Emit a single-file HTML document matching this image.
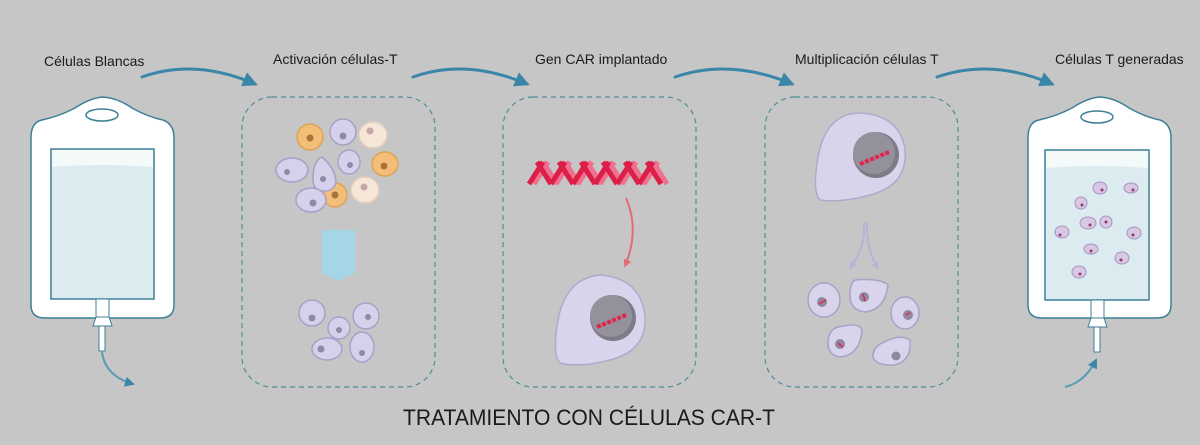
<!DOCTYPE html>
<html><head><meta charset="utf-8"><style>
html,body{margin:0;padding:0;background:#c6c6c6;}
svg{display:block;}
text{font-family:"Liberation Sans",sans-serif;fill:#1a1a1a;}
</style></head><body>
<svg width="1200" height="445" viewBox="0 0 1200 445" xmlns="http://www.w3.org/2000/svg">
<defs>
<marker id="ah" viewBox="0 0 10 10" refX="8" refY="5" markerWidth="5" markerHeight="5" orient="auto"><path d="M0,0 L10,5 L0,10 z" fill="#3a86a8"/></marker>
<marker id="ahp" viewBox="0 0 10 10" refX="8" refY="5" markerWidth="4" markerHeight="4" orient="auto"><path d="M0,0 L10,5 L0,10 z" fill="#e46a78"/></marker>
<marker id="ahl" viewBox="0 0 10 10" refX="8" refY="5" markerWidth="4" markerHeight="4" orient="auto"><path d="M0,0 L10,5 L0,10 z" fill="#b8b2d8"/></marker>
</defs>
<rect width="1200" height="445" fill="#c6c6c6"/>

<text x="44" y="66" font-size="14">Células Blancas</text>
<text x="273" y="64" font-size="14">Activación células-T</text>
<text x="535" y="64" font-size="14">Gen CAR implantado</text>
<text x="795" y="64" font-size="14">Multiplicación células T</text>
<text x="1055" y="64" font-size="14">Células T generadas</text>
<text x="403" y="425" font-size="22" textLength="372" lengthAdjust="spacingAndGlyphs">TRATAMIENTO CON CÉLULAS CAR-T</text>

<g fill="none" stroke="#3a86a8" stroke-width="3" stroke-linecap="round">
<path d="M142,77 Q195,58 255,84" marker-end="url(#ah)"/>
<path d="M413,77 Q466,58 527,84" marker-end="url(#ah)"/>
<path d="M675,77 Q730,58 792,84" marker-end="url(#ah)"/>
<path d="M937,77 Q992,58 1052,84" marker-end="url(#ah)"/>
</g>

<g>
<path d="M42,120 Q60,116 75,108 Q90,98 103,97 Q118,98 132,108 Q148,117 163,120 Q174,124 174,138 L174,305 Q174,318 160,318 L45,318 Q31,318 31,305 L31,138 Q31,122 42,120 Z" fill="#fff" stroke="#3e7f97" stroke-width="1.5"/>
<ellipse cx="102" cy="115" rx="16" ry="6" fill="#fff" stroke="#3e7f97" stroke-width="1.5"/>
<rect x="51" y="149" width="103" height="150" fill="#dcebef" stroke="#3e7f97" stroke-width="1.5"/>
<path d="M52,150 L153,150 L153,167 Q103,163 52,167 Z" fill="#f4f9fa"/>
<rect x="96" y="299" width="13" height="18" fill="#fff" stroke="#3e7f97" stroke-width="1"/>
<path d="M96,317 L109,317 L112,326 L93,326 Z" fill="#fff" stroke="#3e7f97" stroke-width="1"/>
<rect x="99" y="326" width="6" height="25" fill="#fff" stroke="#3e7f97" stroke-width="1"/>
<path d="M102,352 Q105,376 133,384" fill="none" stroke="#5a9bb5" stroke-width="2" marker-end="url(#ah)"/>
</g>

<g>
<path d="M1039,120 Q1057,116 1072,108 Q1087,98 1100,97 Q1115,98 1129,108 Q1145,117 1160,120 Q1171,124 1171,138 L1171,305 Q1171,318 1157,318 L1042,318 Q1028,318 1028,305 L1028,138 Q1028,122 1039,120 Z" fill="#fff" stroke="#3e7f97" stroke-width="1.5"/>
<ellipse cx="1097" cy="117" rx="16" ry="6" fill="#fff" stroke="#3e7f97" stroke-width="1.5"/>
<rect x="1045" y="150" width="104" height="150" fill="#dcebef" stroke="#3e7f97" stroke-width="1.5"/>
<path d="M1046,151 L1148,151 L1148,168 Q1097,164 1046,168 Z" fill="#f4f9fa"/>
<rect x="1091" y="300" width="13" height="18" fill="#fff" stroke="#3e7f97" stroke-width="1"/>
<path d="M1091,318 L1104,318 L1107,327 L1088,327 Z" fill="#fff" stroke="#3e7f97" stroke-width="1"/>
<rect x="1094" y="327" width="6" height="25" fill="#fff" stroke="#3e7f97" stroke-width="1"/>
<path d="M1065,387 Q1085,382 1096,360" fill="none" stroke="#5a9bb5" stroke-width="2" marker-end="url(#ah)"/>
<g fill="#d8c8e4" stroke="#a793c2" stroke-width="1">
<ellipse cx="1100" cy="188" rx="7" ry="6"/><ellipse cx="1131" cy="188" rx="7" ry="5"/>
<ellipse cx="1081" cy="203" rx="6" ry="6"/><ellipse cx="1088" cy="223" rx="8" ry="6"/>
<ellipse cx="1106" cy="222" rx="6" ry="6"/><ellipse cx="1062" cy="232" rx="7" ry="6"/>
<ellipse cx="1134" cy="233" rx="7" ry="6"/><ellipse cx="1091" cy="249" rx="7" ry="5"/>
<ellipse cx="1122" cy="258" rx="7" ry="6"/><ellipse cx="1079" cy="272" rx="7" ry="6"/>
</g>
<g fill="#8a3d6e">
<circle cx="1102" cy="190" r="1.5"/><circle cx="1133" cy="190" r="1.5"/><circle cx="1082" cy="205" r="1.5"/><circle cx="1090" cy="225" r="1.5"/><circle cx="1106" cy="222" r="1.5"/><circle cx="1060" cy="235" r="1.5"/><circle cx="1133" cy="235" r="1.5"/><circle cx="1091" cy="251" r="1.5"/><circle cx="1121" cy="260" r="1.5"/><circle cx="1080" cy="274" r="1.5"/>
</g>
</g>

<g fill="none" stroke="#4f8c9a" stroke-width="1.2" stroke-dasharray="5,4">
<rect x="242" y="97" width="193" height="290" rx="30"/>
<rect x="503" y="97" width="193" height="290" rx="30"/>
<rect x="765" y="97" width="193" height="290" rx="30"/>
</g>

<g stroke-width="1.5">
<g fill="#f3bf78" stroke="#dba45a">
<ellipse cx="310" cy="137" rx="13" ry="13"/><ellipse cx="385" cy="164" rx="13" ry="12"/><ellipse cx="335" cy="195" rx="12" ry="12"/>
</g>
<g fill="#f6e6d8" stroke="#e2cdbe">
<ellipse cx="373" cy="135" rx="14" ry="13"/><ellipse cx="365" cy="190" rx="14" ry="13"/>
</g>
<g fill="#d6d0ea" stroke="#a8a0c8">
<ellipse cx="343" cy="132" rx="13" ry="13"/><ellipse cx="292" cy="170" rx="16" ry="12"/>
<path d="M322,157 Q335,168 336,182 Q334,192 322,191 Q312,190 313,176 Q314,160 322,157Z"/>
<ellipse cx="349" cy="162" rx="11" ry="12"/><ellipse cx="311" cy="200" rx="15" ry="12"/>
<ellipse cx="312" cy="313" rx="13" ry="13"/><ellipse cx="339" cy="328" rx="11" ry="11"/><ellipse cx="366" cy="316" rx="13" ry="13"/>
<ellipse cx="327" cy="349" rx="15" ry="11"/><ellipse cx="362" cy="347" rx="12" ry="15"/>
</g>
<g fill="#8e89a6" stroke="none">
<circle cx="343" cy="136" r="3.5"/><circle cx="287" cy="172" r="3"/><circle cx="323" cy="179" r="3"/><circle cx="350" cy="165" r="3"/><circle cx="313" cy="203" r="3.5"/>
<circle cx="312" cy="318" r="3.5"/><circle cx="339" cy="330" r="3"/><circle cx="368" cy="317" r="3"/><circle cx="321" cy="349" r="3.5"/><circle cx="362" cy="353" r="3"/>
</g>
<g fill="#a6733a" stroke="none"><circle cx="310" cy="138" r="3.5"/><circle cx="384" cy="166" r="3.5"/><circle cx="335" cy="195" r="3.5"/></g>
<g fill="#c9a6a6" stroke="none"><circle cx="370" cy="131" r="3.5"/><circle cx="364" cy="187" r="3.5"/></g>
</g>
<path d="M322,230 L355,230 L355,273 L338,281 L322,273 Z" fill="#a5d6e8"/>

<!-- DNA -->
<g stroke-width="5" stroke-linecap="butt">
<g stroke="#f0708e">
<path d="M534,184 L548,162"/><path d="M556,184 L570,162"/><path d="M578,184 L592,162"/><path d="M600,184 L614,162"/><path d="M622,184 L636,162"/><path d="M644,184 L658,162"/>
<path d="M543,162 L557,184"/><path d="M565,162 L579,184"/><path d="M587,162 L601,184"/><path d="M609,162 L623,184"/><path d="M631,162 L645,184"/><path d="M653,162 L667,184"/>
</g>
<g stroke="#dc1f48">
<path d="M537,162 L551,184"/><path d="M559,162 L573,184"/><path d="M581,162 L595,184"/><path d="M603,162 L617,184"/><path d="M625,162 L639,184"/><path d="M647,162 L661,184"/>
<path d="M529,184 L543,162"/><path d="M551,184 L565,162"/><path d="M573,184 L587,162"/><path d="M595,184 L609,162"/><path d="M617,184 L631,162"/><path d="M639,184 L653,162"/>
</g>
</g>
<path d="M626,198 Q640,230 625,266" fill="none" stroke="#e46a78" stroke-width="2" marker-end="url(#ahp)"/>
<path d="M600,275 Q640,278 645,315 Q648,350 610,360 Q580,368 560,363 Q552,355 558,320 Q566,278 600,275Z" fill="#d9d4ec" stroke="#b1a9cc" stroke-width="1.5"/>
<circle cx="613" cy="318" r="23" fill="#7e7a86"/>
<circle cx="611" cy="316" r="21" fill="#94909c"/>
<path d="M597,327 L626,315" stroke="#e0254c" stroke-width="4" stroke-dasharray="4,1.5"/>

<path d="M860,113 Q900,115 905,150 Q908,185 870,195 Q840,203 820,200 Q812,192 818,157 Q826,113 860,113Z" fill="#d9d4ec" stroke="#b1a9cc" stroke-width="1.5"/>
<circle cx="876" cy="155" r="23" fill="#7e7a86"/>
<circle cx="874" cy="153" r="21" fill="#94909c"/>
<path d="M860,164 L889,152" stroke="#e0254c" stroke-width="4" stroke-dasharray="4,1.5"/>
<g fill="none" stroke="#b8b2d8" stroke-width="2">
<path d="M864,222 Q866,248 850,268" marker-end="url(#ahl)"/>
<path d="M867,222 Q866,250 878,268" marker-end="url(#ahl)"/>
</g>
<g fill="#d9d4ec" stroke="#a9a1c6" stroke-width="1.5">
<ellipse cx="824" cy="300" rx="16" ry="17"/>
<path d="M855,280 Q880,278 888,285 Q885,310 865,312 Q850,310 850,296 Q850,282 855,280Z"/>
<ellipse cx="905" cy="313" rx="14" ry="16"/>
<path d="M838,327 Q860,322 862,330 Q860,355 840,357 Q828,355 828,343 Q828,330 838,327Z"/>
<path d="M880,344 Q900,333 910,340 Q912,360 895,365 Q878,366 873,358 Q872,350 880,344Z"/>
</g>
<g fill="#8e89a0">
<circle cx="822" cy="302" r="5"/><circle cx="864" cy="297" r="5"/><circle cx="908" cy="315" r="5"/><circle cx="840" cy="344" r="5"/><circle cx="896" cy="356" r="4.5"/>
</g>
<g stroke="#e0254c" stroke-width="1.5">
<path d="M819,304 L826,300"/><path d="M863,294 L865,301"/><path d="M838,343 L843,347"/><path d="M906,315 L910,313"/>
</g>
</svg>
</body></html>
